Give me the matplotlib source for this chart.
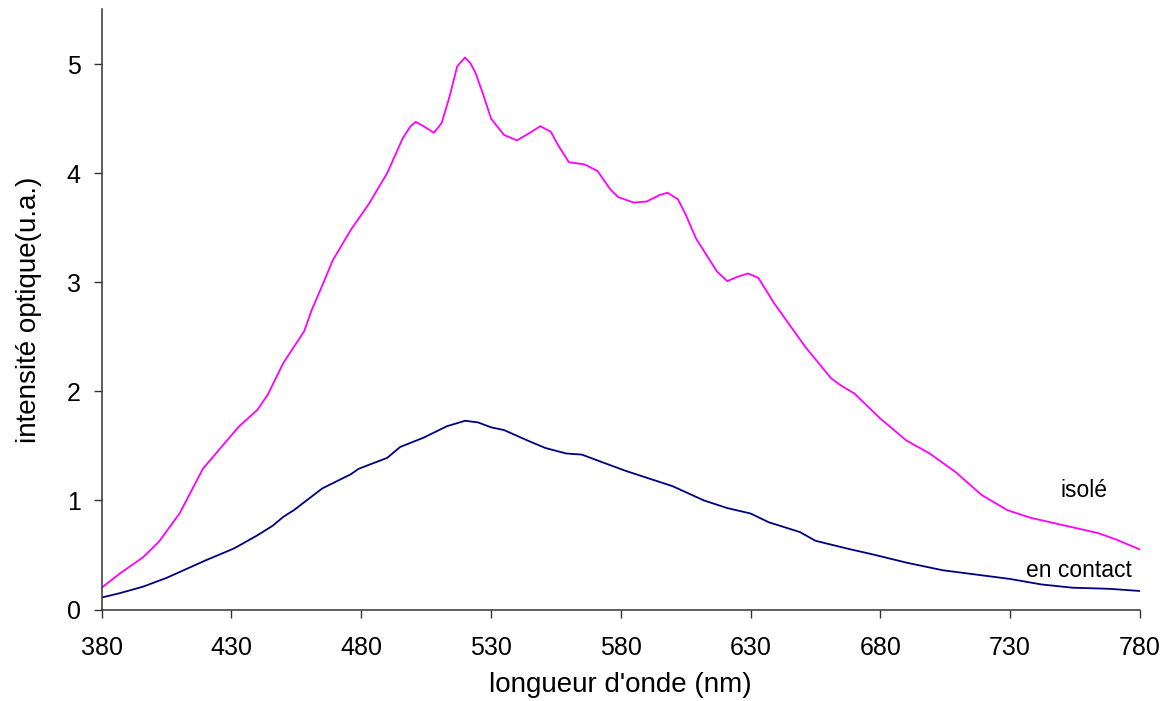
import matplotlib
matplotlib.use("Agg")
import matplotlib.pyplot as plt

plt.rcParams['font.family'] = ['Liberation Sans', 'DejaVu Sans']

# wavelength (nm) / intensity
wl_isole = [380, 387, 396, 402, 410, 419, 429, 433, 440, 444, 450, 458, 461, 465,
            469, 476, 483, 490, 496, 499, 501, 504, 508, 511, 514, 517, 520, 522,
            524, 527, 530, 535, 540, 545, 549, 553, 556, 560, 566, 571, 576, 579,
            585, 590, 595, 598, 602, 605, 609, 617, 621, 625, 629, 633, 639, 651,
            661, 665, 670, 680, 690, 699, 709, 719, 729, 738, 751, 764, 771, 780]
int_isole = [0.20, 0.33, 0.48, 0.62, 0.88, 1.29, 1.57, 1.68, 1.83, 1.97, 2.26, 2.55,
             2.75, 2.97, 3.20, 3.48, 3.72, 4.00, 4.32, 4.43, 4.47, 4.43, 4.37, 4.46,
             4.70, 4.98, 5.06, 5.01, 4.92, 4.72, 4.50, 4.35, 4.30, 4.37, 4.43, 4.38,
             4.25, 4.10, 4.08, 4.02, 3.85, 3.78, 3.73, 3.74, 3.80, 3.82, 3.76, 3.62,
             3.40, 3.10, 3.01, 3.05, 3.08, 3.04, 2.81, 2.41, 2.12, 2.05, 1.98, 1.75,
             1.55, 1.43, 1.26, 1.05, 0.91, 0.84, 0.77, 0.70, 0.64, 0.55]

wl_contact = [380, 387, 396, 405, 420, 431, 440, 446, 450, 454, 465, 476, 479, 490,
              495, 504, 513, 520, 525, 530, 535, 544, 551, 559, 565, 574, 582, 591,
              600, 612, 621, 630, 637, 649, 655, 667, 678, 690, 704, 717, 730, 742,
              754, 768, 780]
int_contact = [0.11, 0.15, 0.21, 0.29, 0.45, 0.56, 0.68, 0.77, 0.85, 0.91, 1.11, 1.24,
               1.29, 1.39, 1.49, 1.575, 1.68, 1.73, 1.715, 1.67, 1.645, 1.55, 1.48,
               1.43, 1.42, 1.34, 1.27, 1.20, 1.13, 1.00, 0.93, 0.88, 0.80, 0.71, 0.63,
               0.56, 0.50, 0.43, 0.36, 0.32, 0.28, 0.23, 0.20, 0.19, 0.17]

xticks = [380, 430, 480, 530, 580, 630, 680, 730, 780]
yticks = [0, 1, 2, 3, 4, 5]

fig = plt.figure(figsize=(11.62, 7.01), dpi=100)
ax = fig.add_axes([0.0875, 0.1305, 0.8935, 0.856])

ax.plot(wl_isole, int_isole, color='#FF00FF', lw=1.3)
ax.plot(wl_contact, int_contact, color='#000080', lw=1.3)

ax.text(749.5, 1.095, 'isolé', fontsize=16.5, va='center', ha='left')
ax.text(736, 0.356, 'en contact', fontsize=16.5, va='center', ha='left')

ax.set_xlim(380, 780)
ax.set_ylim(0, 5.5)
ax.set_xticks(xticks)
ax.set_yticks(yticks)
ax.tick_params(labelsize=18, length=6, width=1, color='#333333')
ax.tick_params(axis='x', pad=13)
ax.tick_params(axis='y', pad=9)

for side in ['top', 'right']:
    ax.spines[side].set_visible(False)
for side in ['left', 'bottom']:
    ax.spines[side].set_linewidth(1.1)
    ax.spines[side].set_color('#333333')

ax.set_xlabel("longueur d'onde (nm)", fontsize=20, labelpad=9)
ax.set_ylabel('intensité optique(u.a.)', fontsize=20, labelpad=18)

fig.savefig('out.png', dpi=100)
